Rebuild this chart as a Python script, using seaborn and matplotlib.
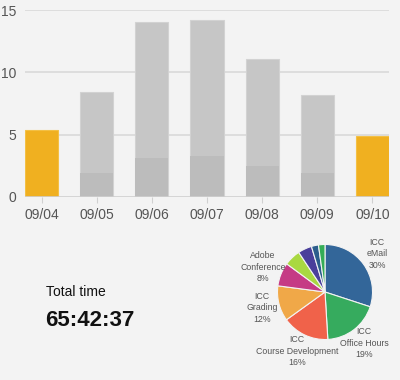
import numpy as np
import pandas as pd
import matplotlib
matplotlib.use("Agg")
import matplotlib.pyplot as plt
import seaborn as sns

# data
days = ["09/04", "09/05", "09/06", "09/07", "09/08", "09/09", "09/10"]
day_total = [5.4, 8.4, 14.0, 14.2, 11.1, 8.2, 4.9]
day_lower = [0.0, 1.9, 3.1, 3.25, 2.5, 1.9, 0.0]
highlight = [True, False, False, False, False, False, True]

pie_labels = ["ICC\neMail\n30%", "ICC\nOffice Hours\n19%", "ICC\nCourse Development\n16%",
              "ICC\nGrading\n12%", "Adobe\nConference\n8%"]
pie_values = [30, 19, 16, 12, 8, 5.6, 4.7, 2.4, 2.2]
pie_colors = ["#336699", "#36ab5e", "#f0624a", "#f0a848", "#c53b85",
              "#a9d841", "#4a3f9b", "#2b5d8c", "#35ad57"]

total_time = "65:42:37"

BG = "#f3f3f3"
TXT = "#555555"

sns.set_theme(style="white")
plt.rcParams["font.family"] = ["Liberation Sans", "DejaVu Sans"]

fig = plt.figure(figsize=(4, 3.8), dpi=100, facecolor=BG)

# ---- bar chart
ax = fig.add_axes([25 / 400, 1 - 197 / 380, 364 / 400, 187 / 380])
ax.set_facecolor(BG)

df = pd.DataFrame({"day": days, "total": day_total, "lower": day_lower})
top_cols = ["#f0b020" if h else "#c6c6c6" for h in highlight]
low_cols = ["#eeaa10" if h else "#bcbcbc" for h in highlight]
edge_cols = ["#f3c045" if h else "#d2d2d2" for h in highlight]

sns.barplot(data=df, x="day", y="total", hue="day", palette=top_cols, legend=False,
            width=0.6, saturation=1, ax=ax, linewidth=0.8, zorder=2)
for patch, ec in zip(ax.patches, edge_cols):
    patch.set_edgecolor(ec)
sns.barplot(data=df, x="day", y="lower", hue="day", palette=low_cols, legend=False,
            width=0.6, saturation=1, ax=ax, linewidth=0, zorder=3)

ax.set_xlim(-0.3, 6.3)
ax.set_ylim(0, 15)
ax.set_yticks([0, 5, 10, 15])
for y in [5, 10, 15]:
    ax.axhline(y, color="#d9d9d9", linewidth=1.2, zorder=1)
ax.axhline(0, color="#cfcfcf", linewidth=1.2, zorder=4)
for s in ax.spines.values():
    s.set_visible(False)
ax.set_xlabel("")
ax.set_ylabel("")
ax.tick_params(axis="y", length=0, pad=6, labelsize=10, labelcolor=TXT)
ax.tick_params(axis="x", length=4, width=0.8, color="#d0d0d0", pad=4,
               labelsize=10, labelcolor=TXT, bottom=True)

# ---- total time
fig.text(46 / 400, 1 - 292 / 380, "Total time", fontsize=10, color="#111111",
         ha="left", va="center")
fig.text(45 / 400, 1 - 320 / 380, total_time, fontsize=16, fontweight="bold",
         color="#111111", ha="left", va="center")

# ---- pie
pax = fig.add_axes([277 / 400, 1 - 340 / 380, 96 / 400, 96 / 380])
pax.set_facecolor(BG)
pax.pie(pie_values, colors=pie_colors, startangle=90, counterclock=False,
        wedgeprops=dict(edgecolor=BG, linewidth=0.8))
pax.set_xlim(-1.01, 1.01)
pax.set_ylim(-1.01, 1.01)
pax.set_aspect("equal")

label_pos = [(377, 254), (364, 343), (297, 351), (262, 308), (263, 267)]
for (px, py), lab in zip(label_pos, pie_labels):
    fig.text(px / 400, 1 - py / 380, lab, fontsize=6.3, color=TXT,
             ha="center", va="center", linespacing=1.4)

fig.savefig("out.png", dpi=100, facecolor=BG)
